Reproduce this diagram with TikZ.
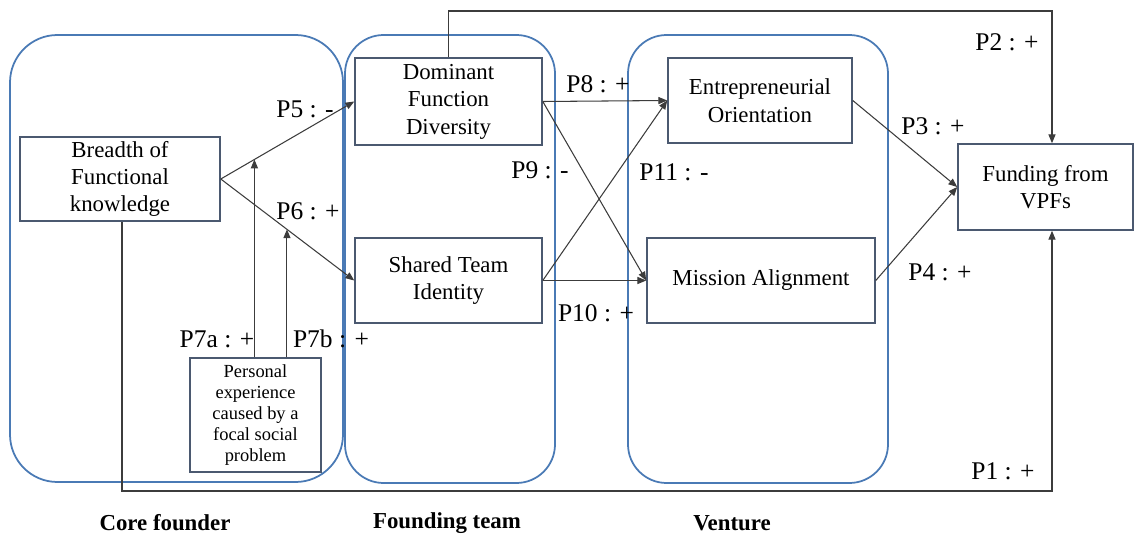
\documentclass[tikz,border=0pt]{standalone}
\usepackage{fontspec}
\setmainfont{Liberation Serif}
\usetikzlibrary{arrows.meta,calc,positioning}
\definecolor{frame}{HTML}{4A7AB5}
\definecolor{boxline}{HTML}{4B5970}
\definecolor{link}{HTML}{3C3C3C}
\tikzset{
  grp/.style={draw=frame, line width=1pt, rounded corners=22pt},
  box/.style={draw=boxline, line width=0.9pt, align=center, inner sep=0pt,
    font=\fontsize{13}{15.6}\selectfont},
  small/.style={font=\fontsize{10.5}{12}\selectfont},
  arr/.style={draw=link, line width=0.6pt, -{Triangle[length=5pt,width=4pt]}},
  lab/.style={font=\fontsize{14.5}{16}\selectfont, inner sep=0pt},
  levelname/.style={font=\bfseries\fontsize{13}{15}\selectfont, inner sep=0pt},
}

\begin{document}
\begin{tikzpicture}[x=0.02cm,y=-0.02cm]
  \useasboundingbox (0,0) rectangle (1143,537);
  % the three levels
  \draw[grp, rounded corners=27pt] (10,35) rectangle (343,482);
  \draw[grp] (345,35) rectangle (555,483);
  \draw[grp] (628,35) rectangle (888,483);
  % constructs
  \node[box, minimum width=4cm, minimum height=1.68cm] (breadth) at (120,179)
    {Breadth of\\Functional\\knowledge};
  \node[box, minimum width=3.74cm, minimum height=1.74cm] (dom) at (448.5,101.5)
    {Dominant\\Function\\Diversity};
  \node[box, minimum width=3.74cm, minimum height=1.7cm] (shared) at (448.5,280.5)
    {Shared Team\\Identity};
  \node[box, minimum width=3.68cm, minimum height=1.7cm] (ent) at (760,100.5)
    {Entrepreneurial\\Orientation};
  \node[box, minimum width=4.56cm, minimum height=1.7cm] (mission) at (761,280.5)
    {Mission Alignment};
  \node[box, minimum width=3.5cm, minimum height=1.72cm] (fund) at (1045.5,187)
    {Funding from\\VPFs};
  \node[box, small, minimum width=2.62cm, minimum height=2.28cm] (pers) at (255.5,415)
    {Personal\\experience\\caused by a\\focal social\\problem};
  % paths
  \draw[arr] (breadth.east) -- (dom.west);
  \draw[arr] (breadth.east) -- (shared.west);
  \draw[arr] (dom.east) -- (ent.west);
  \draw[arr] (dom.east) -- (mission.west);
  \draw[arr] (shared.east) -- (ent.west);
  \draw[arr] (shared.east) -- (mission.west);
  \draw[arr] (ent.east) -- (fund.west);
  \draw[arr] (mission.east) -- (fund.west);
  \coordinate (p2turn) at (1052,11);
  \coordinate (p1turn) at (1052,491);
  \draw[arr] (dom.north) |- (p2turn) -- (p2turn |- fund.north);
  \draw[arr] ([xshift=0.04cm]breadth.south) |- (p1turn) -- (p1turn |- fund.south);
  % moderation
  \coordinate (p7a) at ($(breadth.east)!0.252!(dom.west)$);
  \coordinate (p7b) at ($(breadth.east)!0.496!(shared.west)$);
  \draw[arr] (pers.north -| p7a) -- (p7a);
  \draw[arr] (pers.north -| p7b) -- (p7b);
  % labels
  \node[lab] (lp1) at (1003,471) {P1 : +};
  \node[lab] (lp2) at (1007,42) {P2 : +};
  \node[lab] (lp3) at (933,126) {P3 : +};
  \node[lab] (lp4) at (940,272) {P4 : +};
  \node[lab] (lp5) at (305,109) {P5 : -};
  \node[lab] (lp6) at (308,211) {P6 : +};
  \node[lab] (lp7a) at (217,339) {P7a : +};
  \node[lab] (lp7b) at (331,339) {P7b : +};
  \node[lab] (lp8) at (598,84) {P8 : +};
  \node[lab] (lp9) at (540,170) {P9 : -};
  \node[lab] (lp10) at (596,313) {P10 : +};
  \node[lab] (lp11) at (674,172) {P11 : -};
  \node[levelname] (core) at (165,523) {Core founder};
  \node[levelname] (team) at (447,523) {Founding team};
  \node[levelname] (venture) at (732,523) {Venture};
\end{tikzpicture}
\end{document}
